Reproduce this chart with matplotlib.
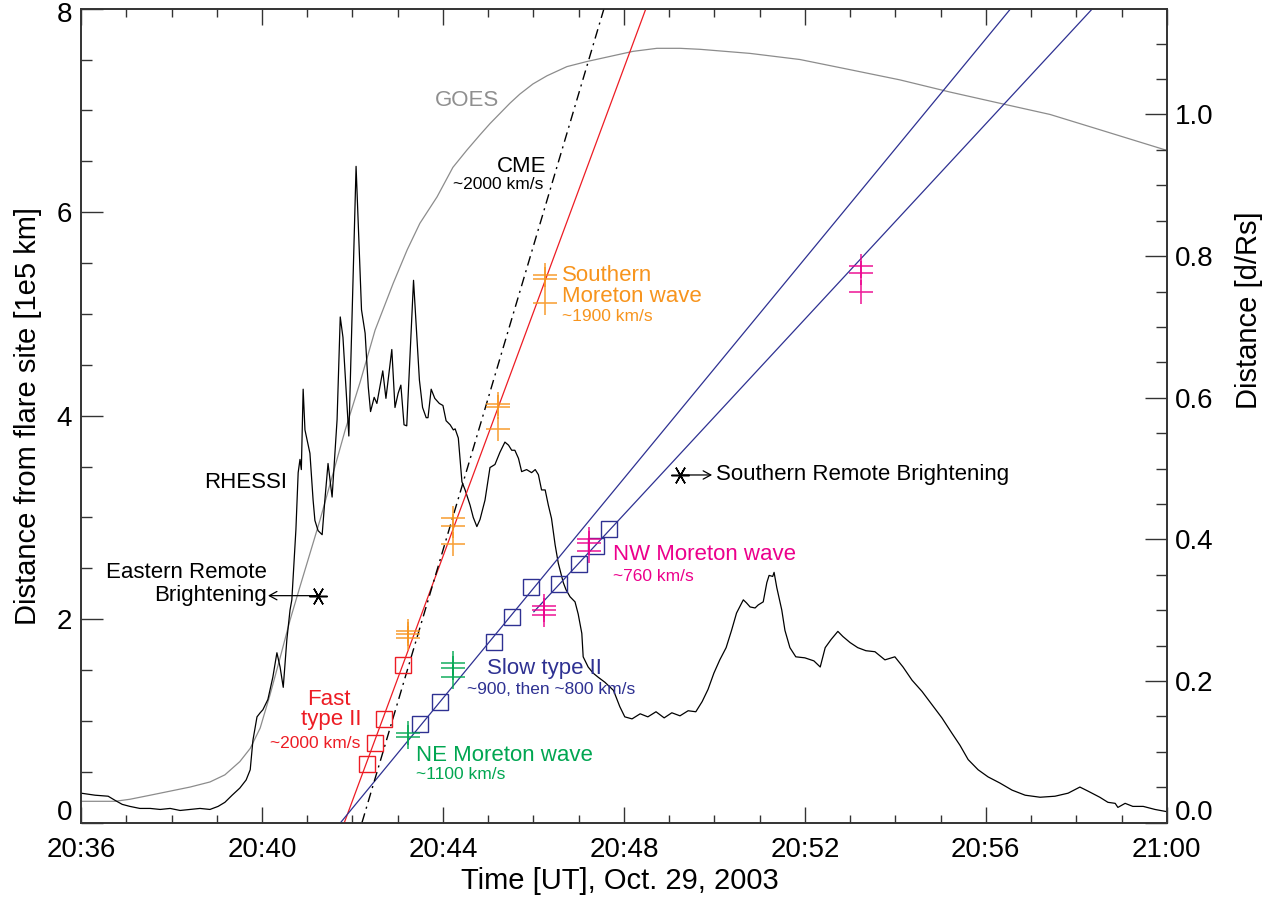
import matplotlib
matplotlib.use("Agg")
import numpy as np
import matplotlib.pyplot as plt
from matplotlib.ticker import MultipleLocator, FuncFormatter, FixedLocator

plt.rcParams['font.family'] = ['Liberation Sans', 'DejaVu Sans']

# ---------------------------------------------------------------------------
# Data: time in minutes after 20:36 UT, distance in units of 1e5 km
# ---------------------------------------------------------------------------
RSUN = 6.96          # solar radius [1e5 km]
T_START = (20, 36)   # hh, mm of the left edge of the time axis

# RHESSI light curve (scaled onto the distance axis)
rhessi_t = [0.00, 0.31, 0.60, 0.75, 0.91, 1.08, 1.30, 1.53, 1.75, 1.97,
            2.19, 2.41, 2.63, 2.85, 3.03, 3.18, 3.34, 3.51, 3.65, 3.74,
            3.80, 3.89, 3.96, 4.02, 4.13, 4.24, 4.33, 4.40, 4.47, 4.55,
            4.62, 4.66, 4.75, 4.80, 4.84, 4.87, 4.91, 4.95, 5.06, 5.13,
            5.17, 5.24, 5.33, 5.39, 5.46, 5.55, 5.66, 5.73, 5.79, 5.92,
            6.08, 6.20, 6.28, 6.35, 6.40, 6.48, 6.54, 6.67, 6.74, 6.87,
            6.94, 7.01, 7.07, 7.14, 7.20, 7.35, 7.48, 7.55, 7.63, 7.67,
            7.74, 7.82, 7.92, 8.00, 8.07, 8.16, 8.23, 8.27, 8.34, 8.42,
            8.49, 8.60, 8.67, 8.75, 8.82, 8.93, 9.04, 9.15, 9.26, 9.37,
            9.45, 9.52, 9.59, 9.67, 9.74, 9.85, 9.96, 10.04, 10.11, 10.18,
            10.26, 10.33, 10.40, 10.48, 10.55, 10.66, 10.72, 10.81, 10.92, 10.99,
            11.07, 11.10, 11.21, 11.32, 11.43, 11.58, 11.77, 11.91, 12.02, 12.18,
            12.36, 12.53, 12.71, 12.89, 13.06, 13.24, 13.42, 13.59, 13.73, 13.86,
            13.99, 14.12, 14.26, 14.38, 14.49, 14.64, 14.71, 14.79, 14.90, 14.97,
            15.08, 15.16, 15.21, 15.29, 15.32, 15.38, 15.49, 15.56, 15.67, 15.80,
            16.00, 16.20, 16.34, 16.45, 16.58, 16.73, 16.84, 17.00, 17.17, 17.35,
            17.55, 17.77, 17.99, 18.17, 18.37, 18.59, 18.81, 19.03, 19.25, 19.43,
            19.61, 19.83, 20.05, 20.31, 20.58, 20.87, 21.20, 21.53, 21.82, 22.08,
            22.26, 22.52, 22.70, 22.86, 22.92, 23.08, 23.25, 23.48, 23.74, 23.98]
rhessi_d = [0.29, 0.27, 0.26, 0.22, 0.18, 0.16, 0.14, 0.14, 0.13, 0.14,
            0.12, 0.13, 0.14, 0.13, 0.16, 0.20, 0.27, 0.34, 0.42, 0.52,
            0.81, 1.04, 1.08, 1.11, 1.21, 1.43, 1.67, 1.53, 1.33, 1.80,
            2.09, 2.19, 2.88, 3.44, 3.57, 3.47, 4.26, 3.86, 3.63, 3.17,
            2.97, 2.87, 2.83, 3.17, 3.53, 3.20, 3.96, 4.97, 4.77, 3.80,
            6.45, 5.04, 4.81, 4.28, 4.04, 4.18, 4.12, 4.44, 4.17, 4.65,
            4.08, 4.22, 4.30, 3.91, 3.90, 5.33, 4.35, 4.08, 3.98, 3.98,
            4.26, 4.17, 4.12, 4.10, 3.95, 3.91, 3.86, 3.87, 3.78, 3.35,
            3.27, 3.12, 3.00, 2.91, 2.98, 3.17, 3.49, 3.52, 3.64, 3.74,
            3.71, 3.66, 3.66, 3.58, 3.45, 3.47, 3.44, 3.47, 3.42, 3.27,
            3.27, 3.12, 2.99, 2.73, 2.55, 2.36, 2.29, 2.22, 2.17, 2.05,
            1.86, 1.63, 1.53, 1.47, 1.43, 1.38, 1.30, 1.14, 1.04, 1.02,
            1.07, 1.04, 1.09, 1.03, 1.08, 1.05, 1.10, 1.09, 1.19, 1.31,
            1.47, 1.60, 1.72, 1.89, 2.06, 2.19, 2.16, 2.12, 2.11, 2.14,
            2.17, 2.36, 2.43, 2.42, 2.46, 2.31, 2.09, 1.89, 1.72, 1.63,
            1.62, 1.59, 1.53, 1.72, 1.80, 1.88, 1.83, 1.77, 1.72, 1.69,
            1.68, 1.60, 1.63, 1.53, 1.40, 1.29, 1.16, 1.03, 0.88, 0.76,
            0.62, 0.52, 0.45, 0.39, 0.32, 0.27, 0.25, 0.26, 0.29, 0.35,
            0.31, 0.25, 0.20, 0.19, 0.15, 0.19, 0.16, 0.16, 0.13, 0.11]

# GOES soft X-ray flux (scaled onto the distance axis)
goes_t = [0.00, 0.75, 1.08, 1.53, 1.97, 2.41, 2.85, 3.18, 3.51, 3.74,
          3.96, 4.18, 4.40, 4.62, 4.84, 5.28, 5.84, 6.17, 6.50, 6.90,
          7.21, 7.49, 7.87, 8.22, 8.53, 8.82, 9.04, 9.26, 9.48, 9.70,
          9.99, 10.30, 10.74, 11.18, 11.69, 12.20, 12.73, 13.24, 13.69, 14.79,
          15.89, 17.00, 18.10, 19.21, 20.31, 21.42, 22.52, 23.98]
goes_d = [0.21, 0.21, 0.23, 0.27, 0.31, 0.35, 0.40, 0.47, 0.60, 0.73,
          0.93, 1.26, 1.62, 1.99, 2.32, 2.97, 3.86, 4.33, 4.84, 5.30,
          5.63, 5.89, 6.15, 6.44, 6.61, 6.76, 6.87, 6.97, 7.07, 7.16,
          7.26, 7.34, 7.43, 7.48, 7.53, 7.58, 7.61, 7.61, 7.60, 7.56,
          7.50, 7.40, 7.30, 7.18, 7.07, 6.96, 6.81, 6.61]

# Type II radio burst sources
fast_t = [6.316, 6.499, 6.704, 7.124]
fast_d = [0.574, 0.780, 1.016, 1.550]
slow_t = [7.493, 7.942, 9.136, 9.534, 9.947, 10.566, 11.015, 11.377, 11.678]
slow_d = [0.970, 1.183, 1.773, 2.025, 2.313, 2.346, 2.540, 2.719, 2.884]

# Moreton wave fronts (H-alpha)
south_t = [7.235, 7.235, 7.235, 8.230, 8.230, 8.230,
           9.224, 9.224, 9.224, 10.256, 10.256, 10.256]
south_d = [1.887, 1.852, 1.812, 2.992, 2.919, 2.739,
           4.115, 4.088, 3.866, 5.380, 5.341, 5.105]
ne_t = [7.235, 7.235, 8.230, 8.230, 8.230]
ne_d = [0.885, 0.845, 1.572, 1.517, 1.435]
nw_t = [10.234, 10.234, 10.234, 11.237, 11.237, 11.237, 17.234, 17.234, 17.234]
nw_d = [2.130, 2.090, 2.041, 2.785, 2.746, 2.670, 5.474, 5.405, 5.216]

# Remote brightenings
east_rb = (5.246, 2.231)
south_rb = (13.24, 3.417)

# Kinematic fits: speed [km/s] and onset time [min]
fast_speed, fast_onset = 2000.0, 5.82
slow_speed1, slow_onset1 = 900.0, 5.736
slow_speed2, slow_onset2, slow_start2 = 800.0, 5.692, 10.01
cme_t = [6.21, 11.56]
cme_d = [0.0, 8.0]

# ---------------------------------------------------------------------------
C_RED = '#ED1C24'
C_NAVY = '#2E3192'
C_ORANGE = '#F7941D'
C_GREEN = '#00A651'
C_MAGENTA = '#EC008C'
C_GRAY = '#8C8C8C'

fig = plt.figure(figsize=(12.70, 8.99), dpi=100)
ax = fig.add_axes([0.0638, 0.0849, 0.8549, 0.9055])
ax2 = ax.twinx()

XMAX, YMAX = 24.0, 8.0
ax.set_xlim(0, XMAX)
ax.set_ylim(0, YMAX)
ax2.set_ylim(0, YMAX / RSUN)


def kms_to_units_per_min(v):
    return v * 60.0 / 1e5


def fit_line(speed, onset, start=None):
    rate = kms_to_units_per_min(speed)
    t0 = onset if start is None else start
    t1 = onset + YMAX / rate
    tt = np.array([t0, t1])
    return tt, rate * (tt - onset)


# light curves
ax.plot(goes_t, goes_d, color=C_GRAY, lw=0.9, zorder=2)
ax.plot(rhessi_t, rhessi_d, color='black', lw=0.9, zorder=3)

# fitted fronts
tt, dd = fit_line(fast_speed, fast_onset)
ax.plot(tt, dd, color=C_RED, lw=0.9, zorder=4)
tt, dd = fit_line(slow_speed1, slow_onset1)
ax.plot(tt, dd, color=C_NAVY, lw=0.9, zorder=4)
tt, dd = fit_line(slow_speed2, slow_onset2, slow_start2)
ax.plot(tt, dd, color=C_NAVY, lw=0.9, zorder=4)
ax.plot(cme_t, cme_d, color='black', lw=1.0, dashes=(7, 3.5, 1.5, 3.5), zorder=4)

# measurements
ax.plot(fast_t, fast_d, ls='none', marker='s', ms=11.3, mfc='none',
        mec=C_RED, mew=1.0, zorder=5)
ax.plot(slow_t, slow_d, ls='none', marker='s', ms=11.3, mfc='none',
        mec=C_NAVY, mew=1.0, zorder=5)
for t, d, c in ((south_t, south_d, C_ORANGE), (ne_t, ne_d, C_GREEN),
                (nw_t, nw_d, C_MAGENTA)):
    ax.plot(t, d, ls='none', marker='+', ms=17.3, mew=1.2, color=c,
            alpha=0.85, zorder=6)

# remote brightenings with arrows
for (t, d), tip in ((east_rb, 4.133), (south_rb, 13.95)):
    ax.plot([t], [d], ls='none', marker=(6, 2, 90), ms=13, mew=1.1,
            color='black', zorder=6)
    ax.annotate('', xy=(tip, d), xytext=(t, d),
                arrowprops=dict(arrowstyle='->,head_length=0.55,head_width=0.3',
                                lw=0.9, color='black', shrinkA=0, shrinkB=0),
                zorder=6)

# labels
BIG, SMALL = 16, 12.5
ax.text(7.825, 7.10, 'GOES', color='#8F8F8F', fontsize=BIG, ha='left', va='center')
ax.text(10.28, 6.447, 'CME', color='black', fontsize=BIG, ha='right', va='center')
ax.text(10.23, 6.27, '~2000 km/s', color='black', fontsize=SMALL, ha='right', va='center')
ax.text(4.55, 3.34, 'RHESSI', color='black', fontsize=BIG, ha='right', va='center')
ax.text(10.63, 5.38, 'Southern', color=C_ORANGE, fontsize=BIG, ha='left', va='center')
ax.text(10.63, 5.17, 'Moreton wave', color=C_ORANGE, fontsize=BIG, ha='left', va='center')
ax.text(10.63, 4.97, '~1900 km/s', color=C_ORANGE, fontsize=SMALL, ha='left', va='center')
ax.text(5.48, 1.213, 'Fast', color=C_RED, fontsize=BIG, ha='center', va='center')
ax.text(5.53, 1.016, 'type II', color=C_RED, fontsize=BIG, ha='center', va='center')
ax.text(6.167, 0.78, '~2000 km/s', color=C_RED, fontsize=SMALL, ha='right', va='center')
ax.text(7.405, 0.665, 'NE Moreton wave', color=C_GREEN, fontsize=BIG, ha='left', va='center')
ax.text(7.405, 0.476, '~1100 km/s', color=C_GREEN, fontsize=SMALL, ha='left', va='center')
ax.text(8.968, 1.520, 'Slow type II', color=C_NAVY, fontsize=BIG, ha='left', va='center')
ax.text(8.526, 1.311, '~900, then ~800 km/s', color=C_NAVY, fontsize=SMALL, ha='left', va='center')
ax.text(11.766, 2.631, 'NW Moreton wave', color=C_MAGENTA, fontsize=BIG, ha='left', va='center')
ax.text(11.766, 2.418, '~760 km/s', color=C_MAGENTA, fontsize=SMALL, ha='left', va='center')
ax.text(4.105, 2.346, 'Eastern Remote\nBrightening', color='black', fontsize=BIG,
        ha='right', va='center', multialignment='right', linespacing=1.15)
ax.text(14.036, 3.417, 'Southern Remote Brightening', color='black', fontsize=BIG,
        ha='left', va='center')

# ---------------------------------------------------------------------------
# axes styling
SPINE = '#333333'
TICKFS = 20
LABELFS = 21


def hhmm(m, pos=None):
    total = T_START[1] + int(round(m))
    return f"{T_START[0] + total // 60}:{total % 60:02d}"


ax.xaxis.set_major_locator(MultipleLocator(4))
ax.xaxis.set_minor_locator(MultipleLocator(1))
ax.xaxis.set_major_formatter(FuncFormatter(hhmm))

ax.yaxis.set_major_locator(FixedLocator([0, 2, 4, 6, 8]))
ax.yaxis.set_minor_locator(MultipleLocator(0.5))
ax.yaxis.set_major_formatter(FuncFormatter(
    lambda v, p: '' if v in (0, 8) else f"{v:.0f}"))

ax2.yaxis.set_major_locator(MultipleLocator(0.2))
ax2.yaxis.set_minor_locator(MultipleLocator(0.05))
ax2.yaxis.set_major_formatter(FuncFormatter(
    lambda v, p: '' if abs(v) < 1e-9 else f"{v:.1f}"))

for a in (ax, ax2):
    for s in a.spines.values():
        s.set_color(SPINE)
        s.set_linewidth(1.2)

ax.tick_params(axis='x', which='both', direction='in', top=True, bottom=True,
               color=SPINE, width=1.0, labelsize=TICKFS, pad=10)
ax.tick_params(axis='x', which='major', length=11.5)
ax.tick_params(axis='x', which='minor', length=5.8)
ax.tick_params(axis='y', which='both', direction='in', left=True, right=False,
               color=SPINE, width=1.0, labelsize=TICKFS, pad=6.5)
ax.tick_params(axis='y', which='major', length=15.8)
ax.tick_params(axis='y', which='minor', length=7.7)
ax2.tick_params(axis='y', which='both', direction='in', right=True, left=False,
                color=SPINE, width=1.0, labelsize=TICKFS, pad=6)
ax2.tick_params(axis='y', which='major', length=15.8)
ax2.tick_params(axis='y', which='minor', length=7.7)

# end labels sit just inside the axis range
ax.text(-0.0083, 0.012, '0', transform=ax.transAxes, fontsize=TICKFS,
        ha='right', va='center')
ax.text(-0.0083, 0.992, '8', transform=ax.transAxes, fontsize=TICKFS,
        ha='right', va='center')
ax.text(1.0077, 0.012, '0.0', transform=ax.transAxes, fontsize=TICKFS,
        ha='left', va='center')

ax.set_xlabel('Time [UT], Oct. 29, 2003', fontsize=LABELFS)
ax.xaxis.set_label_coords(0.4965, -0.055)
ax.set_ylabel('Distance from flare site [1e5 km]', fontsize=LABELFS)
ax.yaxis.set_label_coords(-0.0359, 0.50)
ax2.set_ylabel('Distance [d/Rs]', fontsize=LABELFS)
ax2.yaxis.set_label_coords(1.0628, 0.63)

fig.savefig('out.png', dpi=100)
